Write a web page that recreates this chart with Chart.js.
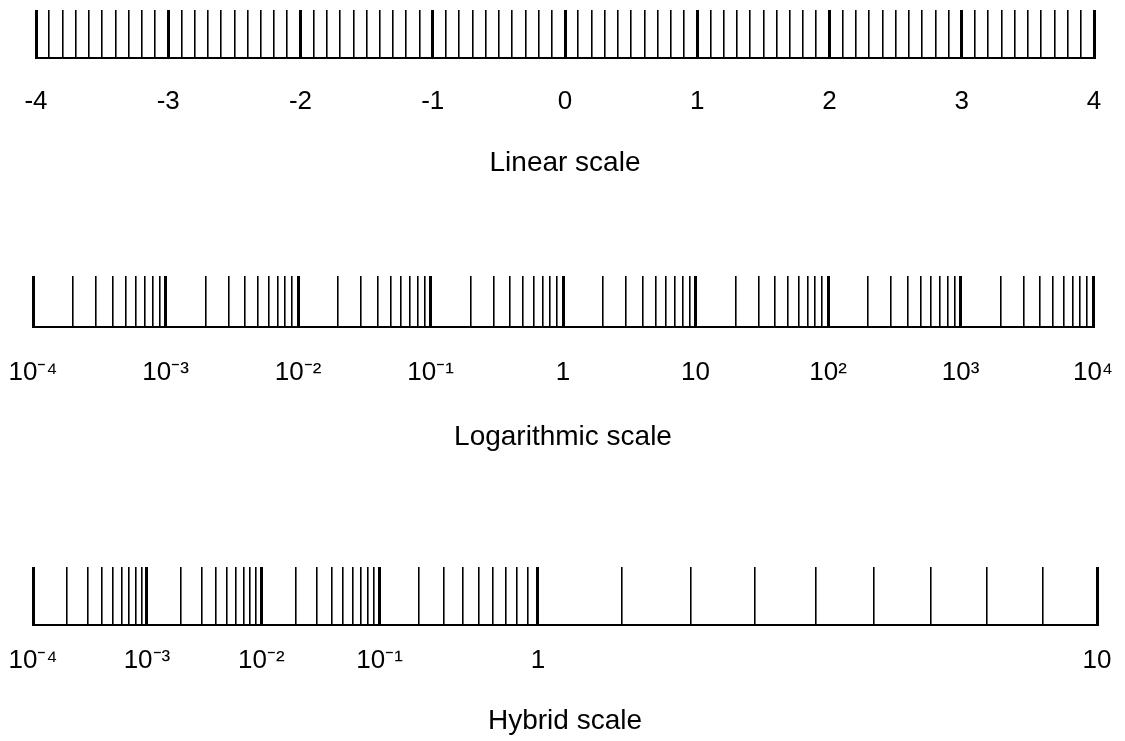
<!DOCTYPE html>
<html>
<head>
<meta charset="utf-8">
<title>Linear, logarithmic and hybrid scales</title>
<script src="https://cdn.jsdelivr.net/npm/chart.js@4.4.1/dist/chart.umd.min.js"></script>
<style>
  body { margin: 0; background: #fff; }
  #page { position: relative; width: 1125px; height: 741px; overflow: hidden; background: #fff; }
  canvas { position: absolute; left: 0; }
</style>
</head>
<body>
<div id="page">
  <canvas id="linearCanvas" width="1125" height="180" style="top:0px"></canvas>
  <canvas id="logCanvas" width="1125" height="204" style="top:250px"></canvas>
  <canvas id="hybridCanvas" width="1125" height="198" style="top:540px"></canvas>
</div>
<script>
// linear scale: labelled units, tenths drawn in between
let linearUnits = [-4, -3, -2, -1, 0, 1, 2, 3, 4];
let linearTenths = [1, 2, 3, 4, 5, 6, 7, 8, 9];

// logarithmic scale: one labelled tick per decade, 2..9 in between
let logDecades = [1e-4, 1e-3, 1e-2, 1e-1, 1, 10, 100, 1000, 10000];
let logLabels = ['10⁻⁴', '10⁻³', '10⁻²', '10⁻¹', '1', '10', '10²', '10³', '10⁴'];
let mantissas = [2, 3, 4, 5, 6, 7, 8, 9];

// hybrid scale: decades below 1, plain units from 1 to 10
let hybridDecades = [1e-4, 1e-3, 1e-2, 1e-1];
let hybridUnits = [1, 2, 3, 4, 5, 6, 7, 8, 9, 10];
let hybridLabels = ['10⁻⁴', '10⁻³', '10⁻²', '10⁻¹', '1', '10'];

(function() {
  let fontFamily = '"Liberation Sans", Arial, Helvetica, sans-serif';
  let ink = '#000';

  function buildLinearTicks() {
    var ticks = [];
    for (var i = 0; i < linearUnits.length; i++) {
      let u = linearUnits[i];
      ticks.push({ value: u, major: true, text: String(u) });
      if (i == linearUnits.length - 1) break;
      linearTenths.forEach(t => ticks.push({ value: Math.round((u + t / 10) * 10) / 10, major: false, text: '' }));
    }
    return ticks;
  }

  function buildLogTicks() {
    var ticks = [];
    for (var i = 0; i < logDecades.length; i++) {
      let d = logDecades[i];
      ticks.push({ value: d, major: true, text: logLabels[i] });
      if (i == logDecades.length - 1) break;
      mantissas.forEach(m => ticks.push({ value: m * d, major: false, text: '' }));
    }
    return ticks;
  }

  function buildHybridTicks() {
    var ticks = [];
    hybridDecades.forEach((d, i) => {
      ticks.push({ value: d, major: true, text: hybridLabels[i] });
      mantissas.forEach(m => ticks.push({ value: m * d, major: false, text: '' }));
    });
    hybridUnits.forEach(u => {
      let labelIndex = [1, 10].indexOf(u);
      ticks.push({ value: u, major: labelIndex >= 0, text: labelIndex >= 0 ? hybridLabels[hybridDecades.length + labelIndex] : '' });
    });
    return ticks;
  }

  // hybrid axis: ln(x) + x, i.e. logarithmic near zero, linear for large x
  function hybrid(v) {
    return Math.log(v) + v;
  }

  class HybridScale extends Chart.Scale {
    constructor(cfg) {
      super(cfg);
      this._startValue = undefined;
      this._valueRange = 0;
    }
    determineDataLimits() {
      this.min = this.options.min;
      this.max = this.options.max;
    }
    buildTicks() {
      return buildHybridTicks();
    }
    configure() {
      super.configure();
      this._startValue = hybrid(this.min);
      this._valueRange = hybrid(this.max) - this._startValue;
    }
    getPixelForValue(value) {
      if (value === undefined || value === null || value <= 0) return NaN;
      return this.getPixelForDecimal((hybrid(value) - this._startValue) / this._valueRange);
    }
    getValueForPixel(pixel) {
      let target = this._startValue + this.getDecimalForPixel(pixel) * this._valueRange;
      var lo = this.min, hi = this.max;
      for (var i = 0; i < 60; i++) {
        let mid = Math.sqrt(lo * hi);
        if (hybrid(mid) < target) lo = mid; else hi = mid;
      }
      return lo;
    }
    getLabelForValue(value) {
      return String(value);
    }
  }
  HybridScale.id = 'hybrid';
  HybridScale.defaults = {};
  Chart.register(HybridScale);

  function drawScale(canvasId, opts) {
    let ctx = document.getElementById(canvasId).getContext('2d');
    return new Chart(ctx, {
      type: 'scatter',
      data: { datasets: [] },
      options: {
        responsive: false,
        animation: false,
        devicePixelRatio: 1,
        events: [],
        layout: { padding: opts.padding },
        plugins: { legend: { display: false }, tooltip: { enabled: false } },
        scales: {
          y: { display: false },
          x: {
            type: opts.type,
            position: 'bottom',
            min: opts.min,
            max: opts.max,
            afterBuildTicks: scale => { scale.ticks = opts.ticks(); },
            afterFit: scale => {
              // fixed axis height; end labels may overhang the box, the layout padding holds them
              scale.height = opts.axisHeight;
              scale.paddingLeft = 0;
              scale.paddingRight = 0;
            },
            grid: {
              display: true,
              drawOnChartArea: true,
              drawTicks: false,
              color: ink,
              lineWidth: c => (c.tick && c.tick.major ? 3 : 1.6)
            },
            border: { display: true, color: ink, width: 2 },
            ticks: {
              autoSkip: false,
              maxRotation: 0,
              minRotation: 0,
              padding: opts.labelPad,
              color: ink,
              font: { family: fontFamily, size: 26 },
              callback: (value, index, ticks) => ticks[index].text || ''
            },
            title: {
              display: true,
              text: opts.title,
              color: ink,
              padding: 0,
              font: { family: fontFamily, size: 28 }
            }
          }
        }
      }
    });
  }

  drawScale('linearCanvas', {
    type: 'linear', min: -4, max: 4, ticks: buildLinearTicks,
    padding: { left: 36, right: 31, top: 10, bottom: 0 },
    axisHeight: 122, labelPad: 28, title: 'Linear scale'
  });

  drawScale('logCanvas', {
    type: 'logarithmic', min: 1e-4, max: 1e4, ticks: buildLogTicks,
    padding: { left: 33, right: 32, top: 26, bottom: 0 },
    axisHeight: 127, labelPad: 30, title: 'Logarithmic scale'
  });

  drawScale('hybridCanvas', {
    type: 'hybrid', min: 1e-4, max: 10, ticks: buildHybridTicks,
    padding: { left: 33, right: 28, top: 27, bottom: 0 },
    axisHeight: 113, labelPad: 20, title: 'Hybrid scale'
  });
})();
</script>
</body>
</html>
